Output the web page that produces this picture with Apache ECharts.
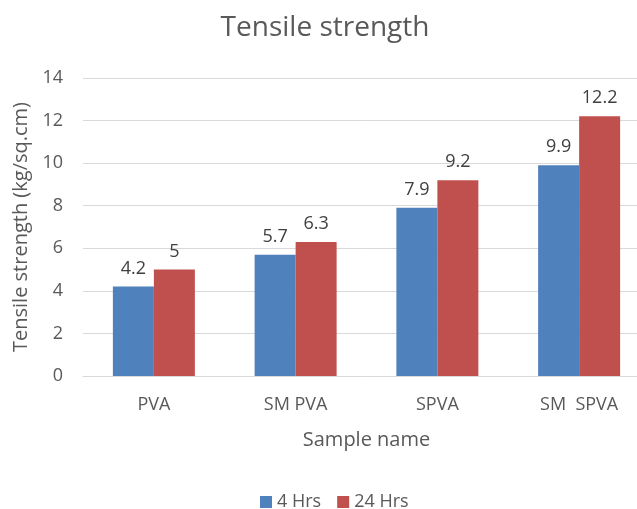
<!DOCTYPE html>
<html>
<head>
<meta charset="utf-8">
<script src="https://cdn.jsdelivr.net/npm/echarts@6/dist/echarts.min.js"></script>
<style>
  html, body { margin: 0; padding: 0; background: #fff; overflow: hidden; }
  /* the original chart is a little wider than the picture and is cut on the right */
  #main { width: 650px; height: 509px; }
</style>
</head>
<body>
<div id="main"></div>
<script>
// data
const categories = ['PVA', 'SM PVA', 'SPVA', 'SM  SPVA'];
const hrs4 = [4.2, 5.7, 7.9, 9.9];
const hrs24 = [5, 6.3, 9.2, 12.2];

const font = '"Open Sans", "Liberation Sans", sans-serif';
const grey = '#595959';

const myChart = echarts.init(document.getElementById('main'));
const option = {
    backgroundColor: '#fff',
    animation: false,
    textStyle: { fontFamily: font },
    title: {
        text: 'Tensile strength',
        left: 'center',
        top: 9,
        textStyle: { fontSize: 28, fontWeight: 'normal', color: grey, fontFamily: font }
    },
    legend: {
        top: 488,
        left: 255,
        itemWidth: 12,
        itemHeight: 12,
        itemGap: 16,
        icon: 'rect',
        textStyle: { fontSize: 18, color: grey, fontFamily: font },
        data: ['4 Hrs', '24 Hrs']
    },
    grid: { left: 83, top: 78, right: 0, height: 298 },
    xAxis: {
        type: 'category',
        data: categories,
        name: 'Sample name',
        nameLocation: 'middle',
        nameGap: 54,
        nameTextStyle: { fontSize: 20, color: grey, fontFamily: font },
        axisLine: { lineStyle: { color: '#d9d9d9' } },
        axisTick: { show: false },
        axisLabel: { fontSize: 18, color: grey, margin: 20, fontFamily: font }
    },
    yAxis: {
        type: 'value',
        min: 0,
        max: 14,
        interval: 2,
        name: 'Tensile strength (kg/sq.cm)',
        nameLocation: 'middle',
        nameGap: 50,
        nameTextStyle: { fontSize: 20, color: grey, fontFamily: font },
        axisLine: { show: false },
        axisTick: { show: false },
        axisLabel: { fontSize: 18, color: grey, margin: 20, fontFamily: font },
        splitLine: { lineStyle: { color: '#d9d9d9' } }
    },
    series: [
        {
            name: '4 Hrs',
            type: 'bar',
            data: hrs4,
            barWidth: 41,
            barGap: '0%',
            itemStyle: { color: '#4f81bd' },
            label: { show: true, position: 'top', distance: 9, fontSize: 18, color: '#404040', fontFamily: font }
        },
        {
            name: '24 Hrs',
            type: 'bar',
            data: hrs24,
            barWidth: 41,
            barGap: '0%',
            itemStyle: { color: '#c0504d' },
            label: { show: true, position: 'top', distance: 9, fontSize: 18, color: '#404040', fontFamily: font }
        }
    ]
};
option && myChart.setOption(option);
</script>
</body>
</html>
